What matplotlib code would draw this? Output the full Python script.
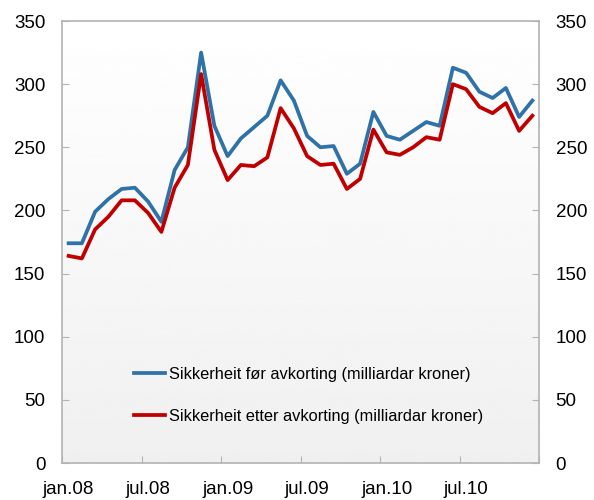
import numpy as np
import matplotlib
matplotlib.use("Agg")
import matplotlib.pyplot as plt
import matplotlib.ticker as ticker

plt.rcParams['font.family'] = ['Liberation Sans', 'DejaVu Sans']

# monthly values, jan.08 - des.10 (milliardar kroner)
before_haircut = [174, 174, 199, 209, 217, 218, 207, 191, 232, 250, 325, 267,
                  243, 257, 266, 275, 303, 287, 259, 250, 251, 229, 237, 278,
                  259, 256, 263, 270, 267, 313, 309, 294, 289, 297, 274, 287]
after_haircut = [164, 162, 185, 195, 208, 208, 198, 183, 218, 236, 308, 248,
                 224, 236, 235, 242, 281, 265, 243, 236, 237, 217, 225, 264,
                 246, 244, 250, 258, 256, 300, 296, 282, 277, 285, 263, 275]
label_before = "Sikkerheit før avkorting (milliardar kroner)"
label_after = "Sikkerheit etter avkorting (milliardar kroner)"
x_labels = ["jan.08", "jul.08", "jan.09", "jul.09", "jan.10", "jul.10"]

GRAY = "#b3b3b3"
BLUE = "#2f72a8"
RED = "#c00000"

fig = plt.figure(figsize=(5.94, 5.0), dpi=100)
ax = fig.add_axes([62/594, 37/500, 477/594, 442/500])

# background gradient: white at top, light gray at bottom
grad = np.linspace(1.0, 0.94, 256).reshape(-1, 1)
ax.imshow(grad, extent=[0, 1, 0, 1], transform=ax.transAxes, cmap="gray",
          vmin=0, vmax=1, aspect="auto", zorder=0, interpolation="bicubic")

x = np.arange(len(before_haircut))
ax.plot(x, before_haircut, color=BLUE, lw=2.7, label=label_before, zorder=3)
ax.plot(x, after_haircut, color=RED, lw=2.7, label=label_after, zorder=3)

ax.set_xlim(-0.5, len(x) - 0.5)
ax.set_ylim(0, 350)
ax.yaxis.set_major_locator(ticker.MultipleLocator(50))

# tick marks at month boundaries, labels at month centres
ax.set_xticks(np.arange(-0.5, len(x), 6))
ax.set_xticklabels([])
ax.set_xticks(np.arange(0, len(x), 6), minor=True)
ax.set_xticklabels(x_labels, minor=True)
ax.tick_params(axis='x', which='minor', length=0, pad=13, labelsize=13.5)
ax.tick_params(axis='x', which='major', direction='in', length=5, color=GRAY)
ax.tick_params(axis='y', direction='in', length=5, color=GRAY, labelsize=13.5,
               pad=12, right=True, labelright=True)

for side in ax.spines.values():
    side.set_color(GRAY)
    side.set_linewidth(1.2)

fig.legend(loc='center', bbox_to_anchor=(0.52, 0.209), frameon=False,
           fontsize=11.8, labelspacing=1.65, handlelength=1.85,
           handletextpad=0.3)

fig.savefig("out.png", dpi=100)
